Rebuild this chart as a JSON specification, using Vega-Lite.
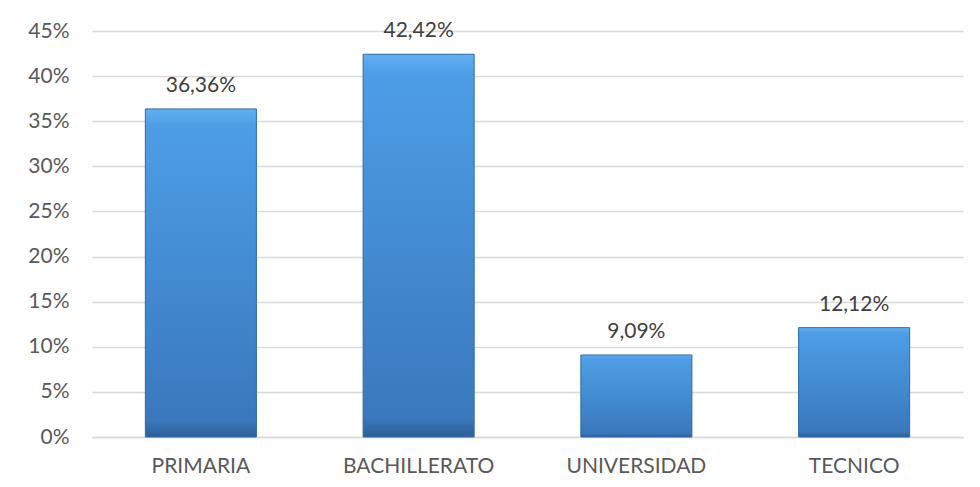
{
  "$schema": "https://vega.github.io/schema/vega-lite/v6.json",
  "width": 871,
  "height": 406,
  "autosize": {"type": "none"},
  "padding": {"left": 92, "top": 31, "right": 17, "bottom": 50},
  "background": "white",
  "config": {
    "view": {"stroke": null},
    "font": "Lato",
    "locale": {"number": {"decimal": ",", "thousands": ".", "grouping": [3], "currency": ["", " €"]}}
  },
  "data": {
    "values": [
      {"nivel": "PRIMARIA", "valor": 0.3636},
      {"nivel": "BACHILLERATO", "valor": 0.4242},
      {"nivel": "UNIVERSIDAD", "valor": 0.0909},
      {"nivel": "TECNICO", "valor": 0.1212}
    ]
  },
  "encoding": {
    "x": {
      "field": "nivel", "type": "nominal", "sort": null, "title": null,
      "scale": {"paddingInner": 0.49, "paddingOuter": 0.245},
      "axis": {"labelAngle": 0, "labelFontSize": 21, "labelColor": "#595959", "labelFont": "Lato", "ticks": false, "domain": true, "domainColor": "#d9d9d9", "domainWidth": 1.5, "labelPadding": 18}
    },
    "y": {
      "field": "valor", "type": "quantitative", "title": null,
      "scale": {"domain": [0, 0.45]},
      "axis": {"format": ".0%", "values": [0, 0.05, 0.1, 0.15, 0.2, 0.25, 0.3, 0.35, 0.4, 0.45], "labelFontSize": 21, "labelColor": "#595959", "labelFont": "Lato", "ticks": false, "domain": false, "gridColor": "#d9d9d9", "gridWidth": 1.5, "labelPadding": 23}
    }
  },
  "layer": [
    {
      "mark": {
        "type": "bar",
        "stroke": "#2f6aa8",
        "strokeWidth": 1,
        "color": {
          "gradient": "linear", "x1": 0, "y1": 0, "x2": 0, "y2": 1,
          "stops": [
            {"offset": 0, "color": "#62b0f2"},
            {"offset": 0.05, "color": "#4d9ee6"},
            {"offset": 0.5, "color": "#438bd2"},
            {"offset": 0.95, "color": "#3a78bd"},
            {"offset": 1, "color": "#2c5f98"}
          ]
        }
      }
    },
    {
      "mark": {"type": "text", "baseline": "bottom", "dy": -13, "fontSize": 21, "color": "#404040", "font": "Lato"},
      "encoding": {"text": {"field": "valor", "type": "quantitative", "format": ".2%"}}
    }
  ]
}
